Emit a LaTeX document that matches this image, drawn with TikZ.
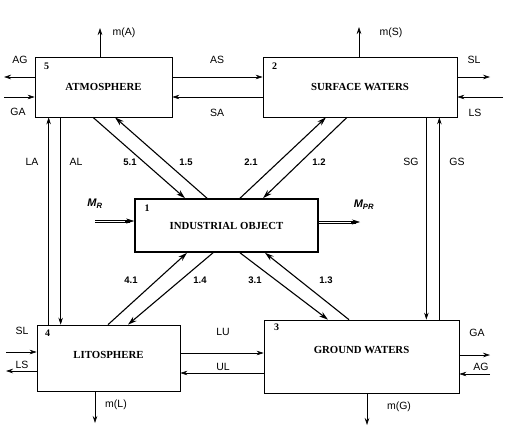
\documentclass[tikz,border=0pt]{standalone}
\usepackage{fontspec}
\setmainfont{Liberation Serif}
\setsansfont{Liberation Sans}
\usetikzlibrary{arrows.meta}
\tikzset{
	box/.style={draw, line width=0.7pt, inner sep=0pt, font=\fontsize{10.8}{12}\selectfont\bfseries},
	num/.style={font=\fontsize{10}{11}\selectfont\bfseries, inner sep=0pt},
	arr/.style={line width=0.6pt, -{Stealth[length=7pt,width=4.5pt]}},
	flow/.style={line width=1.1pt, -{Stealth[length=9pt,width=5.5pt]}},
	dbl/.style={line width=0.6pt},
	tip/.style={line width=0.5pt, -{Stealth[length=8pt,width=5pt]}},
	lab/.style={font=\sffamily\fontsize{10.5}{12}\selectfont, inner sep=0pt},
	flab/.style={font=\sffamily\bfseries\fontsize{9.5}{11}\selectfont, inner sep=0pt},
	mlab/.style={font=\sffamily\bfseries\itshape\fontsize{11}{12}\selectfont, inner sep=0pt}
}
\begin{document}
\begin{tikzpicture}[x=1pt, y=-1pt]
			\useasboundingbox (0,0) rectangle (510,444);
			\node [box, minimum width=137pt, minimum height=60pt] (atm) at (103.5,87) {ATMOSPHERE};
			\node [box, minimum width=194pt, minimum height=60pt] (sw) at (360,87) {SURFACE WATERS};
			\node [box, line width=1.6pt, minimum width=183pt, minimum height=53pt] (io) at (226.5,225.5) {INDUSTRIAL OBJECT};
			\node [box, minimum width=143pt, minimum height=66pt, text depth=6pt] (lit) at (108.5,358) {LITOSPHERE};
			\node [box, minimum width=195pt, minimum height=73pt, text depth=14pt] (gw) at (361.5,356.5) {GROUND WATERS};
			\node [num] (n5) at ([shift={(12pt,-10pt)}]atm.north west) {5};
			\node [num] (n2) at ([shift={(12pt,-10pt)}]sw.north west) {2};
			\node [num] (n1) at ([shift={(13pt,-10pt)}]io.north west) {1};
			\node [num] (n4) at ([shift={(11pt,-9pt)}]lit.north west) {4};
			\node [num] (n3) at ([shift={(13pt,-8pt)}]gw.north west) {3};
			\coordinate (agend) at (4,77);
			\coordinate (gastart) at (4,97);
			\coordinate (slend) at (490,77);
			\coordinate (lsstart) at (503,97);
			\coordinate (mA) at (100,28);
			\coordinate (mS) at (359,27);
			\coordinate (mL) at (95,423);
			\coordinate (mG) at (367,425);
			\coordinate (slstart) at (6,352);
			\coordinate (lsend) at (6,371);
			\coordinate (gaend) at (490,355);
			\coordinate (agstart) at (490,374);
			\coordinate (mrstart) at (95,221);
			\coordinate (mprend) at (360,222);
			\draw [arr] ([yshift=10pt]atm.east) -- ([yshift=10pt]sw.west);
			\draw [arr] ([yshift=-10pt]sw.west) -- ([yshift=-10pt]atm.east);
			\draw [arr] ([yshift=10pt]atm.west) -- (agend);
			\draw [arr] (gastart) -- ([yshift=-10pt]atm.west);
			\draw [arr] ([yshift=10pt]sw.east) -- (slend);
			\draw [arr] (lsstart) -- ([yshift=-10pt]sw.east);
			\draw [arr] ([xshift=-3.5pt]atm.north) -- (mA);
			\draw [arr] ([xshift=-1pt]sw.north) -- (mS);
			\draw [arr] ([xshift=12pt]lit.north west) -- ([xshift=12pt]lit.north west |- atm.south);
			\draw [arr] ([xshift=24pt]lit.north west |- atm.south) -- ([xshift=24pt]lit.north west);
			\draw [arr] ([xshift=-33pt]gw.north east |- sw.south) -- ([xshift=-33pt]gw.north east);
			\draw [arr] ([xshift=-20pt]gw.north east) -- ([xshift=-20pt]gw.north east |- sw.south);
			\draw [flow] ([xshift=-10.5pt]atm.south) -- ([xshift=-41.5pt]io.north);
			\draw [flow] ([xshift=-19.5pt]io.north) -- ([xshift=11.5pt]atm.south);
			\draw [flow] ([xshift=13.5pt]io.north) -- ([xshift=-34pt]sw.south);
			\draw [flow] ([xshift=-13pt]sw.south) -- ([xshift=36.5pt]io.north);
			\draw [flow] ([xshift=-0.5pt]lit.north) -- ([xshift=-39.5pt]io.south);
			\draw [flow] ([xshift=-13.5pt]io.south) -- ([xshift=19.5pt]lit.north);
			\draw [flow] ([xshift=13.5pt]io.south) -- ([xshift=-33.5pt]gw.north);
			\draw [flow] ([xshift=-12.5pt]gw.north) -- ([xshift=38.5pt]io.south);
			\draw [arr] ([yshift=5pt]lit.east) -- ([yshift=5pt]lit.east -| gw.west);
			\draw [arr] ([yshift=-15pt]lit.east -| gw.west) -- ([yshift=-15pt]lit.east);
			\draw [arr] (slstart) -- ([yshift=6pt]lit.west);
			\draw [arr] ([yshift=-13pt]lit.west) -- (lsend);
			\draw [arr] ([yshift=1.5pt]gw.east) -- (gaend);
			\draw [arr] (agstart) -- ([yshift=-17.5pt]gw.east);
			\draw [arr] ([xshift=-13.5pt]lit.south) -- (mL);
			\draw [arr] ([xshift=5.5pt]gw.south) -- (mG);
			\draw [dbl] ([yshift=1pt]mrstart) -- ([xshift=-4pt,yshift=5.5pt]io.west);
			\draw [dbl] ([yshift=-1pt]mrstart) -- ([xshift=-4pt,yshift=3.5pt]io.west);
			\draw [tip] ([xshift=-9pt,yshift=4.5pt]io.west) -- ([yshift=4.5pt]io.west);
			\draw [dbl] ([yshift=4.5pt]io.east) -- ([xshift=-4pt,yshift=1pt]mprend);
			\draw [dbl] ([yshift=2.5pt]io.east) -- ([xshift=-4pt,yshift=-1pt]mprend);
			\draw [tip] ([xshift=-9pt]mprend) -- (mprend);
			\node [lab] (lmA) at (124,33) {m(A)};
			\node [lab] (lmS) at (391,33) {m(S)};
			\node [lab] (lmL) at (116,405) {m(L)};
			\node [lab] (lmG) at (399,407) {m(G)};
			\node [lab] (lAG) at (20,60) {AG};
			\node [lab] (lGA) at (18,112) {GA};
			\node [lab] (lAS) at (217,60) {AS};
			\node [lab] (lSA) at (217,113) {SA};
			\node [lab] (lSL) at (474,60) {SL};
			\node [lab] (lLS) at (475,113) {LS};
			\node [lab] (lLA) at (32,162) {LA};
			\node [lab] (lAL) at (76,162) {AL};
			\node [lab] (lSG) at (411,162) {SG};
			\node [lab] (lGS) at (457,162) {GS};
			\node [lab] (lLU) at (223,332) {LU};
			\node [lab] (lUL) at (223,367) {UL};
			\node [lab] (lSLb) at (22,331) {SL};
			\node [lab] (lLSb) at (22,365) {LS};
			\node [lab] (lGAb) at (477,333) {GA};
			\node [lab] (lAGb) at (481,367) {AG};
			\node [flab] (l51) at (130,162) {5.1};
			\node [flab] (l15) at (186,162) {1.5};
			\node [flab] (l21) at (251,162) {2.1};
			\node [flab] (l12) at (319,162) {1.2};
			\node [flab] (l41) at (131,280) {4.1};
			\node [flab] (l14) at (200,280) {1.4};
			\node [flab] (l31) at (255,280) {3.1};
			\node [flab] (l13) at (326,280) {1.3};
			\node [mlab] (lMR) at (95,204) {M\textsubscript{R}};
			\node [mlab] (lMPR) at (364,205) {M\textsubscript{PR}};
		\end{tikzpicture}
\end{document}
